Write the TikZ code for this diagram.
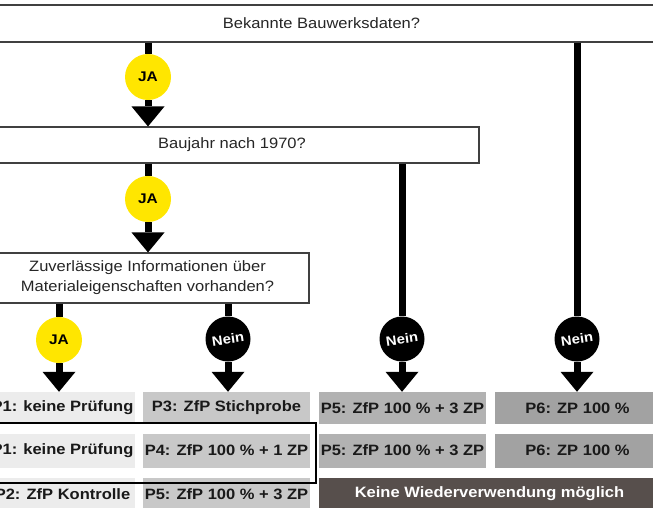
\documentclass[tikz,border=0pt]{standalone}
\usepackage{fontspec}
\setmainfont{Liberation Sans}
\newfontfamily\qfont[FakeStretch=1.1]{Liberation Sans}
\usetikzlibrary{arrows.meta}
\definecolor{pA}{HTML}{ECECEC}
\definecolor{pB}{HTML}{C8C8C8}
\definecolor{pC}{HTML}{B2B2B2}
\definecolor{pD}{HTML}{A2A2A2}
\definecolor{pDark}{HTML}{574F4C}
\definecolor{jaYellow}{HTML}{FFE600}
\begin{document}
\begin{tikzpicture}[x=1pt,y=-1pt,
  qbox/.style={draw=black!75, line width=1.1pt, fill=white, inner sep=0pt,
    font=\qfont\fontsize{15}{20}\selectfont, text=black!85, align=center},
  pbox/.style={inner sep=0pt, font=\qfont\bfseries\fontsize{15}{18}\selectfont, text=black!90},
  jabub/.style={circle, fill=jaYellow, minimum size=46pt, inner sep=0pt,
    font=\qfont\bfseries\fontsize{14}{16}\selectfont, text=black},
  neinbub/.style={circle, fill=black, minimum size=45pt, inner sep=0pt,
    font=\qfont\bfseries\fontsize{13.5}{16}\selectfont, text=white},
  conn/.style={line width=7pt, draw=black},
  arr/.style={line width=7pt, draw=black, -{Triangle[width=33pt,length=20pt,line width=0pt]}},
  frame/.style={draw=black, line width=1.5pt}
]
\useasboundingbox (0,0) rectangle (653,508);

% question boxes
\node[qbox, minimum width=673pt, minimum height=37pt] (q1) at (321.5,23.5) {Bekannte Bauwerksdaten?};
\node[qbox, minimum width=494pt, minimum height=36pt] (q2) at (232,145) {Baujahr nach 1970?};
\node[qbox, minimum width=323pt, minimum height=50pt] (q3) at (147.5,278)
  {Zuverlässige Informationen über\\Materialeigenschaften vorhanden?};

% result boxes, row 1
\node[pbox, fill=pA, minimum width=145pt, minimum height=32pt] (r1a) at (62.5,408) {P1: keine Prüfung};
\node[pbox, fill=pB, minimum width=167pt, minimum height=32pt] (r1b) at (226.5,408) {P3: ZfP Stichprobe};
\node[pbox, fill=pC, minimum width=167pt, minimum height=32pt] (r1c) at (402.5,408) {P5: ZfP 100 \% + 3 ZP};
\node[pbox, fill=pD, minimum width=165pt, minimum height=32pt] (r1d) at (577.5,408) {P6: ZP 100 \%};
% row 2
\node[pbox, fill=pA, minimum width=145pt, minimum height=34pt] (r2a) at (62.5,450.5) {P1: keine Prüfung};
\node[pbox, fill=pB, minimum width=167pt, minimum height=34pt] (r2b) at (226.5,450.5) {P4: ZfP 100 \% + 1 ZP};
\node[pbox, fill=pC, minimum width=167pt, minimum height=34pt] (r2c) at (402.5,450.5) {P5: ZfP 100 \% + 3 ZP};
\node[pbox, fill=pD, minimum width=165pt, minimum height=34pt] (r2d) at (577.5,450.5) {P6: ZP 100 \%};
% row 3
\node[pbox, fill=pA, minimum width=145pt, minimum height=32pt] (r3a) at (62.5,494) {P2: ZfP Kontrolle};
\node[pbox, fill=pB, minimum width=167pt, minimum height=32pt] (r3b) at (226.5,494) {P5: ZfP 100 \% + 3 ZP};
\node[pbox, fill=pDark, text=white, minimum width=341pt, minimum height=32pt] (r3c) at (489.5,494) {Keine Wiederverwendung möglich};

% highlight frame
\draw[frame] (-5,423) rectangle (316,483);

% bubbles
\node[jabub] (j1) at (148,77) {JA};
\node[jabub] (j2) at (148,199) {JA};
\node[jabub] (j3) at (59,340) {JA};
\node[neinbub] (n1) at (228,339) {\rotatebox{8}{Nein}};
\node[neinbub] (n2) at (402,339) {\rotatebox{8}{Nein}};
\node[neinbub] (n3) at (577,339) {\rotatebox{8}{Nein}};

% connectors
\draw[conn] (q1.south -| j1) -- (j1.north);
\draw[arr] (j1.south) -- (q2.north -| j1);
\draw[conn] (q2.south -| j2) -- (j2.north);
\draw[arr] (j2.south) -- (q3.north -| j2);
\draw[conn] (q3.south -| j3) -- (j3.north);
\draw[arr] (j3.south) -- (r1a.north -| j3);
\draw[conn] (q3.south -| n1) -- (n1.north);
\draw[arr] (n1.south) -- (r1b.north -| n1);
\draw[conn] (q2.south -| n2) -- (n2.north);
\draw[arr] (n2.south) -- (r1c.north -| n2);
\draw[conn] (q1.south -| n3) -- (n3.north);
\draw[arr] (n3.south) -- (r1d.north -| n3);
\end{tikzpicture}
\end{document}
